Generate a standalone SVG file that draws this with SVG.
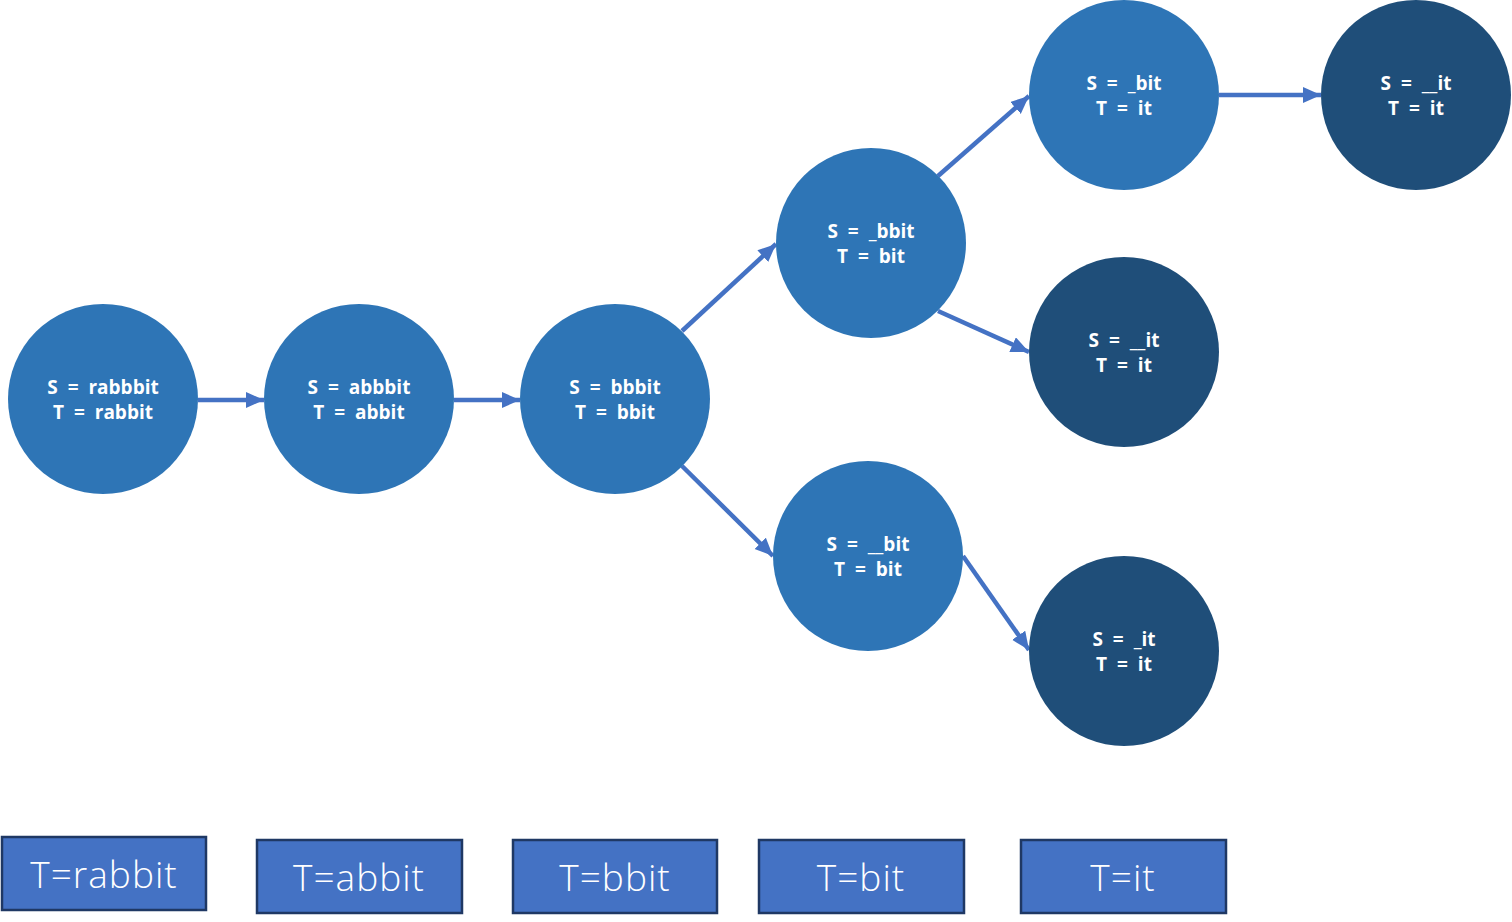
<svg xmlns="http://www.w3.org/2000/svg" width="1512" height="922" viewBox="0 0 1512 922">
<defs>
<marker id="ah" markerUnits="userSpaceOnUse" markerWidth="20" markerHeight="18" refX="18" refY="8" orient="auto">
<path d="M0,0 L18,8 L0,16 Z" fill="#4472C4"/>
</marker>
<style>
.n1{fill:#2E75B6}
.n2{fill:#1F4E79}
.nt{font-family:"Open Sans","Noto Sans",sans-serif;font-weight:700;font-size:19px;word-spacing:5px;fill:#fff;text-anchor:middle}
.bx{fill:#4472C4;stroke:#1F3864;stroke-width:2.5}
.bt{font-family:"Open Sans","Noto Sans",sans-serif;font-weight:300;font-size:37px;letter-spacing:1px;fill:#fff;text-anchor:middle}
.cn{stroke:#4472C4;stroke-width:4.5;fill:none;marker-end:url(#ah)}
</style>
</defs>
<rect width="1512" height="922" fill="#fff"/>
<g id="connectors">
<line class="cn" x1="198" y1="400" x2="264" y2="400"/>
<line class="cn" x1="454" y1="400" x2="520" y2="400"/>
<line class="cn" x1="682" y1="331" x2="776" y2="244"/>
<line class="cn" x1="682" y1="466" x2="773" y2="556"/>
<line class="cn" x1="938" y1="176" x2="1029" y2="96"/>
<line class="cn" x1="938" y1="311" x2="1029" y2="352"/>
<line class="cn" x1="963" y1="556" x2="1029" y2="650"/>
<line class="cn" x1="1219" y1="95" x2="1321" y2="95"/>
</g>
<g id="n1"><circle class="n1" cx="103" cy="399" r="95"/><text class="nt" x="103" y="394">S = rabbbit</text><text class="nt" x="103" y="419">T = rabbit</text></g>
<g id="n2"><circle class="n1" cx="359" cy="399" r="95"/><text class="nt" x="359" y="394">S = abbbit</text><text class="nt" x="359" y="419">T = abbit</text></g>
<g id="n3"><circle class="n1" cx="615" cy="399" r="95"/><text class="nt" x="615" y="394">S = bbbit</text><text class="nt" x="615" y="419">T = bbit</text></g>
<g id="n4"><circle class="n1" cx="871" cy="243" r="95"/><text class="nt" x="871" y="238">S = _bbit</text><text class="nt" x="871" y="263">T = bit</text></g>
<g id="n5"><circle class="n1" cx="868" cy="556" r="95"/><text class="nt" x="868" y="551">S = __bit</text><text class="nt" x="868" y="576">T = bit</text></g>
<g id="n6"><circle class="n1" cx="1124" cy="95" r="95"/><text class="nt" x="1124" y="90">S = _bit</text><text class="nt" x="1124" y="115">T = it</text></g>
<g id="n7"><circle class="n2" cx="1416" cy="95" r="95"/><text class="nt" x="1416" y="90">S = __it</text><text class="nt" x="1416" y="115">T = it</text></g>
<g id="n8"><circle class="n2" cx="1124" cy="352" r="95"/><text class="nt" x="1124" y="347">S = __it</text><text class="nt" x="1124" y="372">T = it</text></g>
<g id="n9"><circle class="n2" cx="1124" cy="651" r="95"/><text class="nt" x="1124" y="646">S = _it</text><text class="nt" x="1124" y="671">T = it</text></g>
<g id="b1"><rect class="bx" x="2" y="837" width="204" height="73"/><text class="bt" x="104" y="888">T=rabbit</text></g>
<g id="b2"><rect class="bx" x="257" y="840" width="205" height="73"/><text class="bt" x="359" y="891">T=abbit</text></g>
<g id="b3"><rect class="bx" x="513" y="840" width="204" height="73"/><text class="bt" x="615" y="891">T=bbit</text></g>
<g id="b4"><rect class="bx" x="759" y="840" width="205" height="73"/><text class="bt" x="861" y="891">T=bit</text></g>
<g id="b5"><rect class="bx" x="1021" y="840" width="205" height="73"/><text class="bt" x="1123" y="891">T=it</text></g>
</svg>
